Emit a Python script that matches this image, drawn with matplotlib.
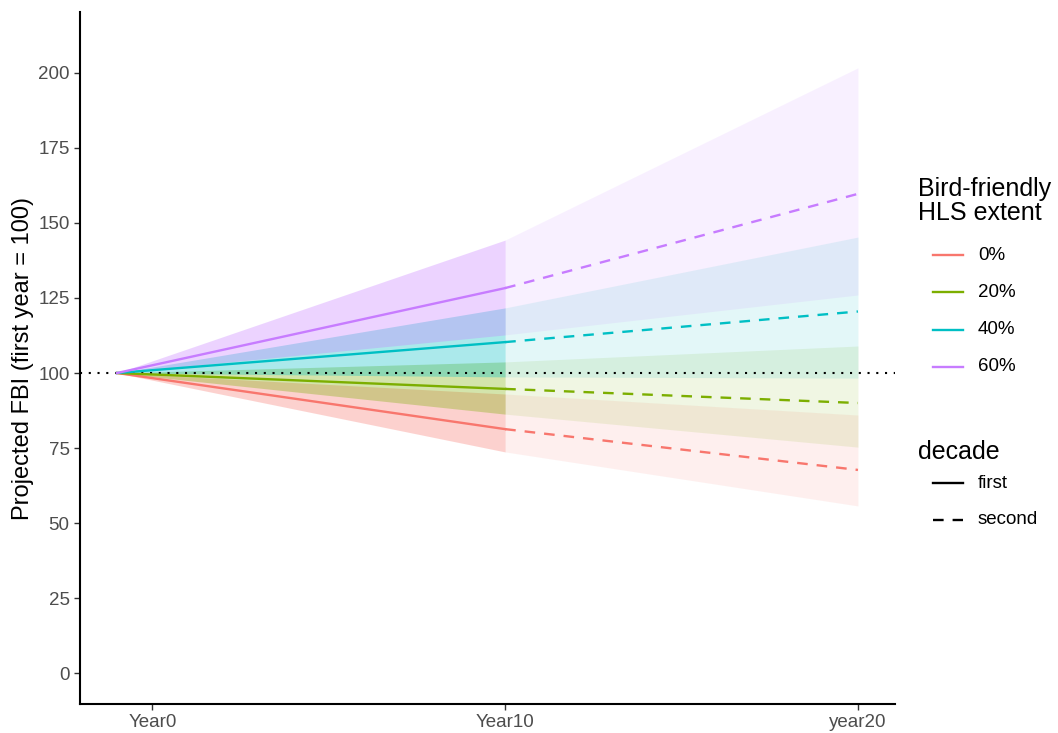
"""Projected FBI by bird-friendly HLS extent, two decades."""
import matplotlib
matplotlib.use('Agg')
import matplotlib.pyplot as plt
from matplotlib.lines import Line2D

plt.rcParams['font.family'] = ['Liberation Sans', 'DejaVu Sans']

# x positions (years) of the three time points
x_start, x_mid, x_end = -1, 10, 20
tick_pos = [0, 10, 20]
tick_labels = ['Year0', 'Year10', 'year20']

extents = ['0%', '20%', '40%', '60%']
colors = ['#F8766D', '#7CAE00', '#00BFC4', '#C77CFF']
decades = ['first', 'second']

start_val = [100, 100, 100, 100]
mid_val = [81.3, 94.7, 110.3, 128.3]
end_val = [67.7, 90.0, 120.5, 159.7]
mid_lo = [73.7, 86.3, 98.7, 112.7]
mid_hi = [93.0, 103.7, 121.7, 144.3]
end_lo = [55.7, 75.3, 98.3, 126.0]
end_hi = [86.0, 109.0, 145.3, 201.7]

DASH = (0, (4.5, 3.8))
W, H = 1058, 733
fig = plt.figure(figsize=(W / 100, H / 100), dpi=100)
ax = fig.add_axes([80 / W, (H - 704) / H, (895 - 80) / W, (704 - 12) / H])

for i, c in enumerate(colors):
    ax.fill_between([x_start, x_mid], [start_val[i], mid_lo[i]], [start_val[i], mid_hi[i]],
                    color=c, alpha=0.33, lw=0)
    ax.fill_between([x_mid, x_end], [mid_lo[i], end_lo[i]], [mid_hi[i], end_hi[i]],
                    color=c, alpha=0.11, lw=0)

ax.axhline(100, color='black', lw=1.5, linestyle=(0, (1, 3.2)), zorder=3)

for i, c in enumerate(colors):
    ax.plot([x_start, x_mid], [start_val[i], mid_val[i]], color=c, lw=1.7, zorder=4)
    ax.plot([x_mid, x_end], [mid_val[i], end_val[i]], color=c, lw=1.7,
            linestyle=DASH, zorder=4)

ax.set_xlim(-2.05, 21.05)
ax.set_ylim(-10.3, 220.3)
ax.set_xticks(tick_pos)
ax.set_xticklabels(tick_labels)
ax.set_yticks(range(0, 201, 25))
ax.tick_params(colors='#333333', labelcolor='#4D4D4D', labelsize=13.5, length=4, width=1)
for s in ['top', 'right']:
    ax.spines[s].set_visible(False)
for s in ['left', 'bottom']:
    ax.spines[s].set_linewidth(1.5)
ax.set_ylabel('Projected FBI (first year = 100)', fontsize=17, labelpad=3)


# legends drawn by hand (ggplot-style: keys indented under the title)
def px(x, y):
    return x / W, 1 - y / H


def key(y, label, **kw):
    x0, yy = px(933, y)
    x1, _ = px(963, y)
    fig.add_artist(Line2D([x0, x1], [yy, yy], transform=fig.transFigure, lw=1.7, **kw))
    fig.text(*px(978, y), label, fontsize=13.5, va='center', ha='left')


fig.text(*px(918, 201), 'Bird-friendly\nHLS extent', fontsize=18, va='center',
         ha='left', linespacing=1.05)
for i, lab in enumerate(extents):
    key(255 + 37.3 * i, lab, color=colors[i])

fig.text(*px(918, 452), 'decade', fontsize=18, va='center', ha='left')
key(483, decades[0], color='black')
key(520, decades[1], color='black', linestyle=DASH)

fig.savefig('out.png', dpi=100)
